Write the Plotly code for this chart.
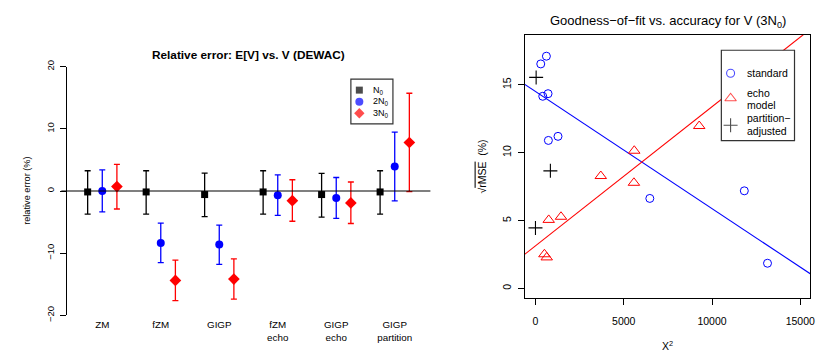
import numpy as np
import plotly.graph_objects as go

FONT = "Liberation Sans, Arial, Helvetica, sans-serif"

# ---- left panel: relative error of E[V] vs V, by model and sample size ----
methods = ["ZM", "fZM", "GIGP", "fZM<br>echo", "GIGP<br>echo", "GIGP<br>partition"]

n1_mean = [-0.15, -0.15, -0.57, -0.15, -0.57, -0.15]
n1_hi = [3.26, 3.26, 2.89, 3.26, 2.84, 3.26]
n1_lo = [-3.72, -3.72, -4.13, -3.72, -4.19, -3.72]

n2_mean = [0.0, -8.37, -8.58, -0.67, -1.14, 3.93]
n2_hi = [3.41, -5.17, -5.48, 2.58, 2.17, 9.46]
n2_lo = [-3.36, -11.52, -11.78, -3.93, -4.39, -1.60]

n3_mean = [0.72, -14.37, -14.16, -1.55, -1.91, 7.80]
n3_hi = [4.29, -11.11, -10.90, 1.81, 1.45, 15.71]
n3_lo = [-2.89, -17.62, -17.36, -4.86, -5.22, -0.10]

# ---- right panel: goodness-of-fit (X^2) vs accuracy (sqrt rMSE) ----
std_x2 = [300, 620, 413, 713, 732, 1277, 6478, 11830, 13144]
std_rmse = [16.53, 17.10, 14.15, 14.34, 10.90, 11.20, 6.63, 7.19, 1.86]

echo_x2 = [507, 638, 751, 1446, 3700, 5596, 5577, 9276]
echo_rmse = [2.52, 2.29, 5.05, 5.28, 8.28, 10.14, 7.78, 11.96]

part_x2 = [38, 845, 0]
part_rmse = [15.54, 8.66, 4.46]

fig = go.Figure()

groups = [
    ("N<sub>0</sub>", n1_mean, n1_hi, n1_lo, -0.25, "black", "square", 7),
    ("2N<sub>0</sub>", n2_mean, n2_hi, n2_lo, 0.0, "blue", "circle", 8),
    ("3N<sub>0</sub>", n3_mean, n3_hi, n3_lo, 0.25, "red", "diamond", 9),
]
for name, m, hi, lo, off, col, sym, sz in groups:
    m = np.array(m)
    fig.add_trace(go.Scatter(
        x=np.arange(1, len(methods) + 1) + off, y=m, mode="markers",
        marker=dict(color=col, symbol=sym, size=sz, line=dict(width=0)),
        error_y=dict(type="data", symmetric=False,
                     array=np.array(hi) - m, arrayminus=m - np.array(lo),
                     color=col, thickness=1.3, width=3),
        xaxis="x", yaxis="y", showlegend=False, cliponaxis=False,
    ))

# least-squares trend lines for the two model families
line_x = np.array([-2000.0, 17000.0])
for xs, ys, col in [(std_x2, std_rmse, "blue"), (echo_x2, echo_rmse, "red")]:
    b, a = np.polyfit(xs, ys, 1)
    fig.add_trace(go.Scatter(x=line_x, y=a + b * line_x, mode="lines",
                             line=dict(color=col, width=1.1),
                             xaxis="x2", yaxis="y2", showlegend=False))

fig.add_trace(go.Scatter(x=std_x2, y=std_rmse, mode="markers",
                         marker=dict(symbol="circle-open", size=8, color="blue", line=dict(width=1)),
                         xaxis="x2", yaxis="y2", showlegend=False, cliponaxis=False))
fig.add_trace(go.Scatter(x=echo_x2, y=echo_rmse, mode="markers",
                         marker=dict(symbol="triangle-up-open", size=10, color="red", line=dict(width=1)),
                         xaxis="x2", yaxis="y2", showlegend=False, cliponaxis=False))
fig.add_trace(go.Scatter(x=part_x2, y=part_rmse, mode="markers",
                         marker=dict(symbol="cross-thin-open", size=10, color="black", line=dict(width=1.1)),
                         xaxis="x2", yaxis="y2", showlegend=False, cliponaxis=False))

# legend keys, placed on a pixel-space overlay
fig.add_trace(go.Scatter(x=[361.5, 361.5, 361.5], y=[86.5, 98.5, 110.5], mode="markers",
                         marker=dict(symbol=["square", "circle", "diamond"], size=[7, 8, 8],
                                     color=["black", "blue", "red"], line=dict(width=0)),
                         xaxis="x3", yaxis="y3", showlegend=False))
fig.add_trace(go.Scatter(x=[735, 735, 735], y=[69, 95, 123], mode="markers",
                         marker=dict(symbol=["circle-open", "triangle-up-open", "cross-thin-open"],
                                     size=[8, 10, 10], color=["blue", "red", "black"],
                                     line=dict(width=1.1)),
                         xaxis="x3", yaxis="y3", showlegend=False))

ann = []
for t, yy in [("N<sub>0</sub>", 86.5), ("2N<sub>0</sub>", 98.5), ("3N<sub>0</sub>", 110.5)]:
    ann.append(dict(x=373, y=yy, xref="x3", yref="y3", text=t, showarrow=False,
                    xanchor="left", yanchor="middle", font=dict(size=9, color="black", family=FONT)))
for t, yy in [("standard", 69), ("echo", 89), ("model", 102), ("partition\u2212", 116), ("adjusted", 129)]:
    ann.append(dict(x=749, y=yy, xref="x3", yref="y3", text=t, showarrow=False,
                    xanchor="left", yanchor="middle", font=dict(size=10.5, color="black", family=FONT)))
ann.append(dict(x=250, y=50, xref="x3", yref="y3", text="<b>Relative error: E[V] vs. V (DEWAC)</b>",
                showarrow=False, xanchor="center", yanchor="middle",
                font=dict(size=11.8, color="black", family=FONT)))
ann.append(dict(x=672, y=15, xref="x3", yref="y3",
                text="Goodness\u2212of\u2212fit vs. accuracy for V (3N<sub>0</sub>)",
                showarrow=False, xanchor="center", yanchor="middle",
                font=dict(size=13, color="black", family=FONT)))
ann.append(dict(x=27, y=191.5, xref="x3", yref="y3", text="relative error (%)", textangle=-90,
                showarrow=False, xanchor="center", yanchor="middle",
                font=dict(size=9.2, color="black", family=FONT)))
ann.append(dict(x=484, y=166, xref="x3", yref="y3",
                text="\u221a<span style='text-decoration:overline'>rMSE</span>  (%)", textangle=-90,
                showarrow=False, xanchor="center", yanchor="middle",
                font=dict(size=10.5, color="black", family=FONT)))
ann.append(dict(x=672, y=352, xref="x3", yref="y3", text="X<sup>2</sup>",
                showarrow=False, xanchor="center", yanchor="middle",
                font=dict(size=10.5, color="black", family=FONT)))

shapes = [
    dict(type="line", xref="x3", yref="y", x0=61.7, x1=433, y0=0, y1=0,
         line=dict(color="black", width=1.2)),
    dict(type="rect", xref="x3", yref="y3", x0=353, x1=395.3, y0=75, y1=121.7,
         line=dict(color="#333", width=1.2), fillcolor="white", layer="below"),
    dict(type="rect", xref="x3", yref="y3", x0=725.7, x1=799.3, y0=45, y1=139,
         line=dict(color="#333", width=1.2), fillcolor="white", layer="below"),
]

W, H = 834, 358
axfont = dict(size=9.5, color="black", family=FONT)
fig.update_layout(
    width=W, height=H, margin=dict(l=0, r=0, t=0, b=0),
    paper_bgcolor="white", plot_bgcolor="rgba(0,0,0,0)",
    font=dict(family=FONT, color="black"),
    xaxis=dict(domain=[67 / W, 433 / W], range=[0.39, 6.61], tickvals=list(range(1, 7)),
               ticktext=methods, showline=False, ticks="", showgrid=False, zeroline=False,
               tickfont=dict(size=9.8, color="black", family=FONT), anchor="y",
               ticklabelstandoff=2),
    yaxis=dict(domain=[1 - 321 / H, 1 - 62 / H], range=[-20, 20], tickvals=[-20, -10, 0, 10, 20],
               showline=True, linecolor="black", linewidth=1, ticks="outside", ticklen=6,
               tickcolor="black", showgrid=False, zeroline=False, tickangle=-90,
               tickfont=axfont, anchor="x", ticklabelstandoff=2),
    xaxis2=dict(domain=[528 / W, 815 / W], range=[-602, 15557], tickvals=[0, 5000, 10000, 15000],
                tickformat="d",
                showline=True, mirror=True, linecolor="black", linewidth=1, ticks="outside",
                ticklen=6, tickcolor="black", showgrid=False, zeroline=False,
                tickfont=dict(size=10.5, color="black", family=FONT), anchor="y2",
                ticklabelstandoff=7),
    yaxis2=dict(domain=[1 - 303 / H, 1 - 29 / H], range=[-0.71, 18.67], tickvals=[0, 5, 10, 15],
                showline=True, mirror=True, linecolor="black", linewidth=1, ticks="outside",
                ticklen=6, tickcolor="black", showgrid=False, zeroline=False, tickangle=-90,
                tickfont=dict(size=10.5, color="black", family=FONT), anchor="x2",
                ticklabelstandoff=3),
    xaxis3=dict(domain=[0, 1], range=[0, W], visible=False, fixedrange=True, anchor="y3"),
    yaxis3=dict(domain=[0, 1], range=[H, 0], visible=False, fixedrange=True, anchor="x3"),
    annotations=ann, shapes=shapes,
)

fig.write_html("out.html")
